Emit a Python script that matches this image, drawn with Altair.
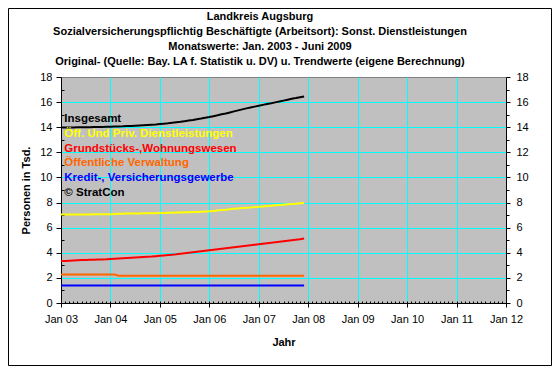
import altair as alt
import pandas as pd

# ---------------- data ----------------
title_lines = [
    "Landkreis Augsburg",
    "Sozialversicherungspflichtig Beschäftigte (Arbeitsort): Sonst. Dienstleistungen",
    "Monatswerte: Jan. 2003 - Juni 2009",
    "Original- (Quelle: Bay. LA f. Statistik u. DV) u. Trendwerte (eigene Berechnung)",
]
months = [f"{y}-{m:02d}" for y in range(2003, 2008) for m in range(1, 13)]

series_names = [
    "Insgesamt",
    "Öff. Und Priv. Dienstleistungen",
    "Grundstücks-,Wohnungswesen",
    "Öffentliche Verwaltung",
    "Kredit-, Versicherungsgewerbe",
]
series_colors = ["#000000", "#FFFF00", "#FF0000", "#FF6600", "#0000FF"]
note_text = "© StratCon"

insgesamt = [
    13.97, 13.97, 13.98, 13.98, 13.99, 13.99, 14.00, 14.00, 14.01, 14.02, 14.02, 14.03,
    14.04, 14.05, 14.06, 14.07, 14.09, 14.10, 14.12, 14.14, 14.16, 14.18, 14.20, 14.22,
    14.25, 14.28, 14.31, 14.35, 14.39, 14.43, 14.48, 14.53, 14.58, 14.64, 14.69, 14.75,
    14.81, 14.88, 14.95, 15.03, 15.10, 15.18, 15.26, 15.34, 15.42, 15.50, 15.57, 15.64,
    15.71, 15.78, 15.85, 15.91, 15.98, 16.05, 16.12, 16.19, 16.26, 16.32, 16.39, 16.45,
]
dienstleistungen = [
    7.04, 7.04, 7.04, 7.05, 7.05, 7.05, 7.05, 7.05, 7.06, 7.06, 7.06, 7.06,
    7.07, 7.09, 7.10, 7.11, 7.12, 7.12, 7.13, 7.13, 7.14, 7.14, 7.15, 7.15,
    7.16, 7.17, 7.18, 7.19, 7.20, 7.21, 7.22, 7.23, 7.24, 7.25, 7.27, 7.28,
    7.30, 7.33, 7.37, 7.40, 7.43, 7.47, 7.50, 7.53, 7.56, 7.59, 7.61, 7.64,
    7.66, 7.69, 7.72, 7.75, 7.78, 7.80, 7.83, 7.86, 7.89, 7.91, 7.94, 7.97,
]
grundstuecke = [
    3.34, 3.35, 3.37, 3.39, 3.41, 3.42, 3.43, 3.44, 3.45, 3.46, 3.47, 3.48,
    3.50, 3.52, 3.54, 3.56, 3.58, 3.60, 3.62, 3.64, 3.66, 3.68, 3.70, 3.73,
    3.76, 3.79, 3.82, 3.85, 3.88, 3.92, 3.96, 4.00, 4.04, 4.08, 4.12, 4.16,
    4.20, 4.24, 4.28, 4.32, 4.36, 4.40, 4.44, 4.48, 4.52, 4.56, 4.60, 4.64,
    4.68, 4.72, 4.76, 4.80, 4.84, 4.88, 4.92, 4.96, 5.00, 5.04, 5.08, 5.14,
]
verwaltung = [
    2.27, 2.27, 2.27, 2.27, 2.27, 2.27, 2.27, 2.27, 2.27, 2.27, 2.27, 2.27,
    2.27, 2.27, 2.17, 2.17, 2.17, 2.17, 2.17, 2.17, 2.17, 2.17, 2.17, 2.17,
    2.17, 2.17, 2.17, 2.17, 2.17, 2.17, 2.17, 2.17, 2.17, 2.17, 2.17, 2.17,
    2.17, 2.17, 2.17, 2.17, 2.17, 2.17, 2.17, 2.17, 2.17, 2.17, 2.17, 2.17,
    2.17, 2.17, 2.17, 2.17, 2.17, 2.17, 2.17, 2.17, 2.17, 2.17, 2.17, 2.17,
]
kredit = [
    1.40, 1.40, 1.40, 1.40, 1.40, 1.40, 1.40, 1.40, 1.40, 1.40, 1.40, 1.40,
    1.40, 1.40, 1.40, 1.40, 1.40, 1.40, 1.40, 1.40, 1.40, 1.40, 1.40, 1.40,
    1.40, 1.40, 1.40, 1.40, 1.40, 1.40, 1.40, 1.40, 1.40, 1.40, 1.40, 1.40,
    1.40, 1.40, 1.40, 1.40, 1.40, 1.40, 1.40, 1.40, 1.40, 1.40, 1.40, 1.40,
    1.40, 1.40, 1.40, 1.40, 1.40, 1.40, 1.40, 1.40, 1.40, 1.40, 1.40, 1.40,
]
all_series = [insgesamt, dienstleistungen, grundstuecke, verwaltung, kredit]

# ---------------- table ----------------
rows = []
for name, vals in zip(series_names, all_series):
    for m, v in zip(months, vals):
        y, mo = int(m[:4]), int(m[5:])
        rows.append({"serie": name, "jahr": y + (mo - 1) / 12, "wert": v})
df = pd.DataFrame(rows)

# ---------------- layout / style ----------------
W, H = 445, 226
PAD_L, PAD_T, PAD_R, PAD_B = 53, 69, 46, 63
FONT = "Liberation Sans"
CYAN = "#00FFFF"

year_ticks = list(range(2003, 2013))
month_ticks = [2003 + i / 12 for i in range(9 * 12 + 1)]
even_ticks = list(range(0, 19, 2))
odd_ticks = list(range(1, 18, 2))

xscale = alt.Scale(domain=[2003, 2012], nice=False, zero=False)
yscale = alt.Scale(domain=[0, 18], nice=False, zero=True)

label_expr = "'Jan ' + substring(toString(datum.value), 2, 4)"

base = alt.Chart(df)

# grid layer
grid = base.mark_line(opacity=0).encode(
    x=alt.X("jahr:Q", scale=xscale, axis=alt.Axis(
        orient="bottom", values=list(range(2004, 2012)), grid=True, gridColor=CYAN,
        gridWidth=1, ticks=False, labels=False, domain=False, title=None)),
    y=alt.Y("wert:Q", scale=yscale, axis=alt.Axis(
        orient="left", values=list(range(2, 17, 2)), grid=True, gridColor=CYAN,
        gridWidth=1, ticks=False, labels=False, domain=False, title=None)),
    detail="serie:N",
)

lines = base.mark_line(strokeWidth=2).encode(
    x=alt.X("jahr:Q", scale=xscale, axis=alt.Axis(
        orient="bottom", values=year_ticks, labelExpr=label_expr, grid=False,
        tickSize=4, tickColor="#000", domainColor="#000", labelPadding=6,
        labelFontSize=11, labelFont=FONT, labelColor="#000", labelFlush=False,
        labelOverlap=False, title="Jahr", titleFont=FONT, titleFontSize=11,
        titleFontWeight="bold", titleColor="#000", titlePadding=12)),
    y=alt.Y("wert:Q", scale=yscale, axis=alt.Axis(
        orient="left", values=even_ticks, grid=False, tickSize=5, tickColor="#000",
        domainColor="#000", labelPadding=4, labelFontSize=11, labelFont=FONT,
        labelColor="#000", labelFlush=False, labelOverlap=False,
        title="Personen in Tsd.", titleFont=FONT, titleFontSize=11,
        titleFontWeight="bold", titleColor="#000", titlePadding=8)),
    color=alt.Color("serie:N", scale=alt.Scale(domain=series_names, range=series_colors),
                    legend=None),
    order=alt.Order("jahr:Q"),
)

# right labelled axis + monthly minor ticks (pointing up from the bottom edge)
axes2 = base.mark_line(opacity=0).encode(
    x=alt.X("jahr:Q", scale=xscale, axis=alt.Axis(
        orient="top", offset=-H, values=month_ticks, tickSize=2, tickColor="#000",
        labels=False, domain=False, grid=False, title=None)),
    y=alt.Y("wert:Q", scale=yscale, axis=alt.Axis(
        orient="right", values=even_ticks, grid=False, tickSize=4, tickColor="#000",
        domainColor="#000", labelPadding=6, labelFontSize=11, labelFont=FONT,
        labelColor="#000", labelFlush=False, labelOverlap=False, title=None)),
    detail="serie:N",
)

# minor ticks on the left (inside) and right (outside)
axes3 = base.mark_line(opacity=0).encode(
    x=alt.X("jahr:Q", scale=xscale, axis=None),
    y=alt.Y("wert:Q", scale=yscale, axis=alt.Axis(
        orient="right", offset=-W, values=odd_ticks, tickSize=3, tickColor="#000",
        labels=False, domain=False, grid=False, title=None)),
    detail="serie:N",
)
axes4 = base.mark_line(opacity=0).encode(
    x=alt.X("jahr:Q", scale=xscale, axis=None),
    y=alt.Y("wert:Q", scale=yscale, axis=alt.Axis(
        orient="right", values=odd_ticks, tickSize=3, tickColor="#000",
        labels=False, domain=False, grid=False, title=None)),
    detail="serie:N",
)

# in-plot legend texts
legend_layers = []
texts = series_names + [note_text]
tcolors = series_colors + ["#000000"]
for i, (t, c) in enumerate(zip(texts, tcolors)):
    legend_layers.append(
        alt.Chart(alt.Data(values=[{"t": t}])).mark_text(
            align="left", baseline="alphabetic", font=FONT, fontSize=11.5,
            fontWeight="bold", color=c,
        ).encode(text="t:N", x=alt.value(3.3), y=alt.value(44.9 + 14.8 * i))
    )

# outer frame
frame = alt.Chart(alt.Data(values=[{"a": 1}])).mark_rect(
    fillOpacity=0, stroke="#000000", strokeWidth=1
).encode(
    x=alt.value(-PAD_L + 0.5), x2=alt.value(W + PAD_R - 0.5),
    y=alt.value(-PAD_T + 0.5), y2=alt.value(H + PAD_B - 0.5),
)

chart = alt.layer(
    grid, lines, axes2, axes3, axes4, *legend_layers, frame
).resolve_axis(
    x="independent", y="independent"
).properties(
    width=W, height=H,
    autosize=alt.AutoSizeParams(type="none"),
    padding={"left": PAD_L, "top": PAD_T, "right": PAD_R, "bottom": PAD_B},
    title=alt.TitleParams(
        text=title_lines, font=FONT, fontSize=11, fontWeight="bold", color="#000",
        lineHeight=15, anchor="middle", frame="group", dx=-23.5, offset=-58.5,
    ),
).configure(
    background="#FFFFFF", font=FONT
).configure_view(
    fill="#C0C0C0", stroke="#808080", strokeWidth=1
)

chart.save("out.html", embed_options={"renderer": "svg", "actions": False})
